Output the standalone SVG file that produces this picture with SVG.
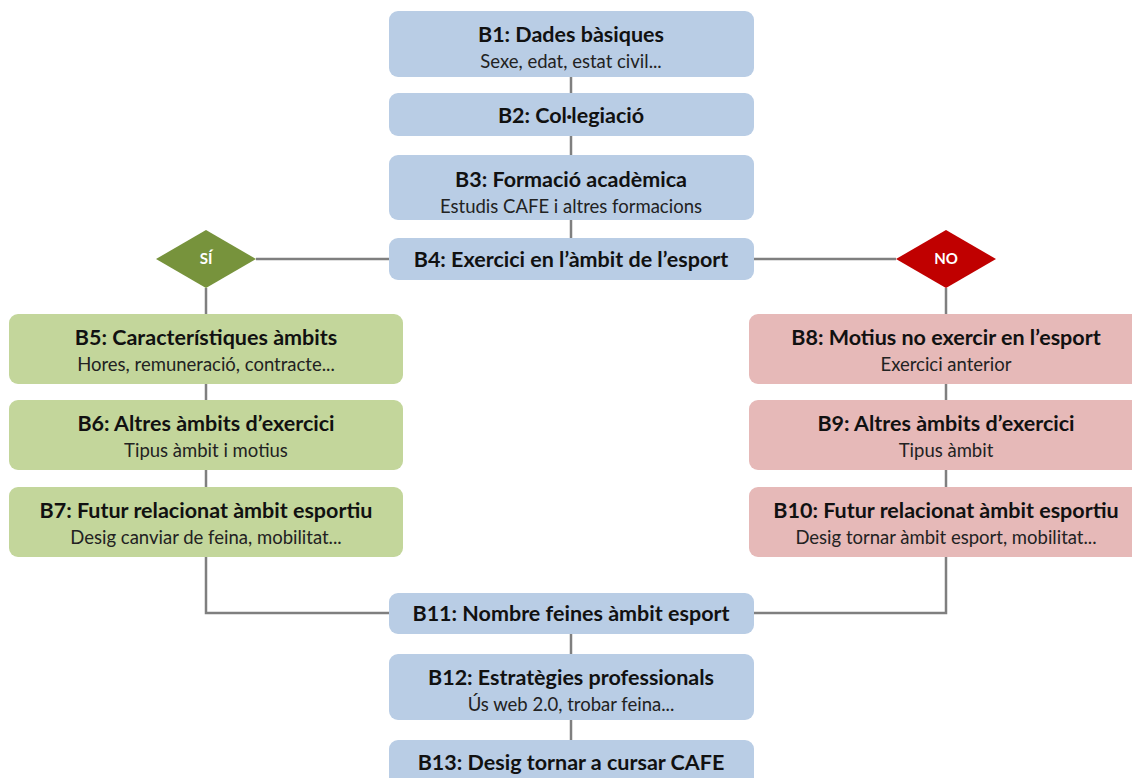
<svg xmlns="http://www.w3.org/2000/svg" width="1132" height="778" viewBox="0 0 1132 778">
  <style>
    .blue { fill: #b9cde5; }
    .green { fill: #c3d69b; }
    .red { fill: #e6b9b8; }
    .t { font-family: Lato, "Liberation Sans", sans-serif; font-weight: bold; font-size: 21.5px; fill: #111; text-anchor: middle; }
    .s { font-family: Lato, "Liberation Sans", sans-serif; font-size: 18.5px; fill: #222; text-anchor: middle; }
    .d { font-family: Lato, "Liberation Sans", sans-serif; font-weight: bold; font-size: 15px; fill: #fff; text-anchor: middle; }
    .conn { stroke: #7f7f7f; stroke-width: 2.5; fill: none; }
  </style>
  <rect width="1132" height="778" fill="#fff"/>

  <!-- connectors -->
  <g id="connectors" class="conn">
    <line x1="571" y1="77" x2="571" y2="93"/>
    <line x1="571" y1="136" x2="571" y2="155"/>
    <line x1="571" y1="220" x2="571" y2="238"/>
    <line x1="256" y1="259" x2="389" y2="259"/>
    <line x1="754" y1="259" x2="896" y2="259"/>
    <line x1="206" y1="288" x2="206" y2="314"/>
    <line x1="946" y1="288" x2="946" y2="314"/>
    <line x1="206" y1="384" x2="206" y2="400"/>
    <line x1="206" y1="470" x2="206" y2="487"/>
    <line x1="946" y1="384" x2="946" y2="400"/>
    <line x1="946" y1="470" x2="946" y2="487"/>
    <polyline points="206,557 206,613 389,613"/>
    <polyline points="946,557 946,613 754,613"/>
    <line x1="571" y1="634" x2="571" y2="654"/>
    <line x1="571" y1="720" x2="571" y2="740"/>
  </g>

  <g id="b1">
    <rect class="blue" x="389" y="11" width="365" height="66" rx="9"/>
    <text class="t" x="571" y="42">B1: Dades bàsiques</text>
    <text class="s" x="571" y="68">Sexe, edat, estat civil...</text>
  </g>
  <g id="b2">
    <rect class="blue" x="389" y="93" width="365" height="43" rx="9"/>
    <text class="t" x="571" y="123">B2: Col·legiació</text>
  </g>
  <g id="b3">
    <rect class="blue" x="389" y="155" width="365" height="65" rx="9"/>
    <text class="t" x="571" y="187">B3: Formació acadèmica</text>
    <text class="s" x="571" y="213">Estudis CAFE i altres formacions</text>
  </g>
  <g id="b4">
    <rect class="blue" x="389" y="238" width="365" height="42" rx="9"/>
    <text class="t" x="571" y="267">B4: Exercici en l’àmbit de l’esport</text>
  </g>

  <g id="si">
    <polygon points="156,259 206,230 256,259 206,288" fill="#77933c"/>
    <text class="d" x="206" y="264">SÍ</text>
  </g>
  <g id="no">
    <polygon points="896,259 946,230 996,259 946,288" fill="#c00000"/>
    <text class="d" x="946" y="264">NO</text>
  </g>

  <g id="b5">
    <rect class="green" x="9" y="314" width="394" height="70" rx="9"/>
    <text class="t" x="206" y="345">B5: Característiques àmbits</text>
    <text class="s" x="206" y="371">Hores, remuneració, contracte...</text>
  </g>
  <g id="b6">
    <rect class="green" x="9" y="400" width="394" height="70" rx="9"/>
    <text class="t" x="206" y="431">B6: Altres àmbits d’exercici</text>
    <text class="s" x="206" y="457">Tipus àmbit i motius</text>
  </g>
  <g id="b7">
    <rect class="green" x="9" y="487" width="394" height="70" rx="9"/>
    <text class="t" x="206" y="518">B7: Futur relacionat àmbit esportiu</text>
    <text class="s" x="206" y="544">Desig canviar de feina, mobilitat...</text>
  </g>

  <g id="b8">
    <rect class="red" x="749" y="314" width="394" height="70" rx="9"/>
    <text class="t" x="946" y="345">B8: Motius no exercir en l’esport</text>
    <text class="s" x="946" y="371">Exercici anterior</text>
  </g>
  <g id="b9">
    <rect class="red" x="749" y="400" width="394" height="70" rx="9"/>
    <text class="t" x="946" y="431">B9: Altres àmbits d’exercici</text>
    <text class="s" x="946" y="457">Tipus àmbit</text>
  </g>
  <g id="b10">
    <rect class="red" x="749" y="487" width="394" height="70" rx="9"/>
    <text class="t" x="946" y="518">B10: Futur relacionat àmbit esportiu</text>
    <text class="s" x="946" y="544">Desig tornar àmbit esport, mobilitat...</text>
  </g>

  <g id="b11">
    <rect class="blue" x="389" y="593" width="365" height="41" rx="9"/>
    <text class="t" x="571" y="621">B11: Nombre feines àmbit esport</text>
  </g>
  <g id="b12">
    <rect class="blue" x="389" y="654" width="365" height="66" rx="9"/>
    <text class="t" x="571" y="685">B12: Estratègies professionals</text>
    <text class="s" x="571" y="711">Ús web 2.0, trobar feina...</text>
  </g>
  <g id="b13">
    <rect class="blue" x="389" y="740" width="365" height="60" rx="9"/>
    <text class="t" x="571" y="770">B13: Desig tornar a cursar CAFE</text>
  </g>
</svg>
